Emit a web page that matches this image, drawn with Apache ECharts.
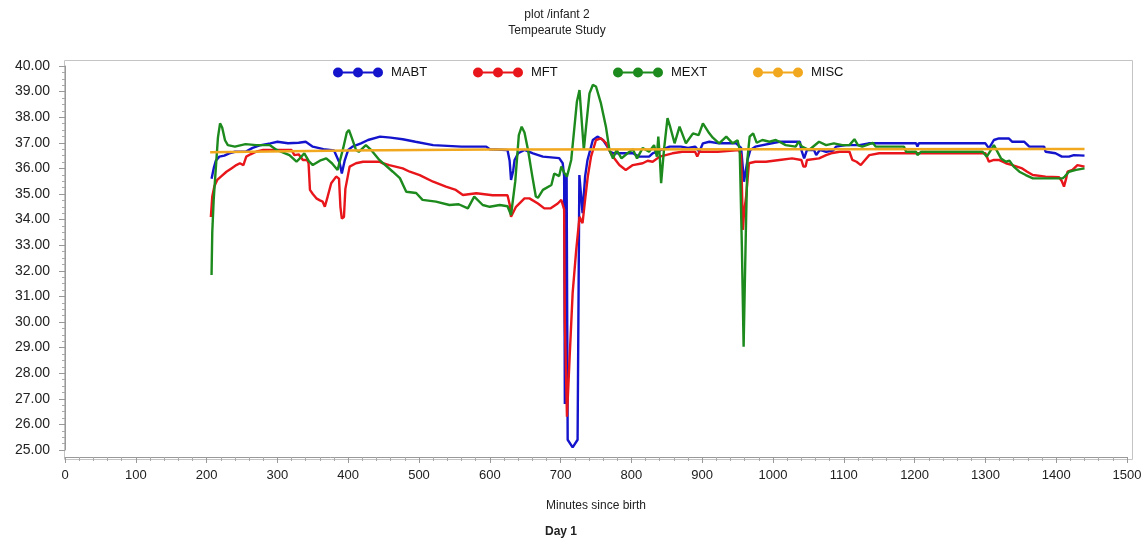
<!DOCTYPE html>
<html>
<head>
<meta charset="utf-8">
<title>Tempearute Study</title>
<script src="https://cdn.jsdelivr.net/npm/echarts@6/dist/echarts.min.js"></script>
<style>
	html, body { margin: 0; padding: 0; background: #fff; }
	#chart { width: 1148px; height: 539px; }
</style>
</head>
<body>
<div id="chart"></div>
<script>
var seriesNames = ['MABT', 'MFT', 'MEXT', 'MISC'];
var seriesColors = ['#1414cc', '#e8161a', '#1c8a1c', '#f2a81e'];

// [minutes since birth, temperature]
var mabt = [
	[207, 35.6], [210, 36.0], [213, 36.3], [218, 36.46], [225, 36.5], [232, 36.59], [240, 36.65],
	[255, 36.65], [265, 36.8], [275, 36.9], [290, 36.98], [300, 37.04], [315, 36.98], [330, 37.0],
	[340, 37.04], [350, 36.85], [365, 36.75], [380, 36.7], [388, 36.2], [391, 35.8], [395, 36.3],
	[400, 36.72], [406, 36.85], [418, 36.98], [428, 37.11], [445, 37.24], [460, 37.2], [477, 37.14],
	[495, 37.04], [520, 36.91], [560, 36.85], [595, 36.85], [600, 36.75], [625, 36.72], [628, 36.3],
	[630, 35.55], [633, 35.9], [635, 36.33], [640, 36.59], [649, 36.72], [661, 36.59], [675, 36.46],
	[698, 36.4], [703, 36.2], [705, 35.7], [706, 26.8], [707.5, 26.8], [708.5, 35.8], [710, 25.4],
	[717, 25.1], [724, 25.4], [726.5, 35.74], [729, 35.68], [731, 34.25], [734.6, 35.68], [738, 36.33],
	[745.5, 37.11], [752, 37.24], [760, 37.11], [766, 36.85], [770, 36.65], [775, 36.59], [802, 36.59],
	[811, 36.46], [825, 36.46], [830, 36.59], [842, 36.72], [854, 36.85], [870, 36.85], [880, 36.8],
	[890, 36.85], [896, 36.65], [901, 36.98], [910, 37.04], [924, 36.98], [948, 36.98], [955, 36.8],
	[959, 35.48], [964, 36.33], [968, 36.72], [975, 36.85], [1009, 37.04], [1038, 37.04], [1040, 36.72],
	[1044, 36.39], [1048, 36.72], [1058, 36.72], [1061, 36.52], [1066, 36.72], [1075, 36.65], [1085, 36.7],
	[1089, 36.85], [1103, 36.91], [1122, 36.91], [1135, 36.98], [1202, 36.98], [1204, 36.85], [1206, 36.98],
	[1300, 36.98], [1305, 36.78], [1312, 37.11], [1319, 37.17], [1333, 37.17], [1338, 37.04], [1355, 37.04],
	[1362, 36.85], [1383, 36.85], [1385, 36.65], [1399, 36.59], [1408, 36.46], [1418, 36.46], [1425, 36.52],
	[1440, 36.5]
];
var mft = [
	[206, 34.1], [208, 34.9], [211, 35.3], [215, 35.55], [221, 35.7], [228, 35.87], [235, 36.0],
	[242, 36.13], [247, 36.2], [252, 36.13], [256, 36.46], [262, 36.55], [270, 36.65], [280, 36.72],
	[320, 36.72], [324, 36.52], [330, 36.55], [336, 36.33], [342, 36.33], [344, 36.2], [346, 35.16],
	[350, 35.0], [355, 34.83], [360, 34.75], [364, 34.7], [367, 34.5], [371, 34.9], [376, 35.42],
	[383, 35.68], [387, 35.6], [389, 34.5], [391, 34.04], [394, 34.1], [396, 35.2], [402, 36.07],
	[411, 36.2], [421, 36.26], [444, 36.26], [449, 36.2], [458, 36.13], [477, 36.0], [487, 35.87],
	[501, 35.74], [520, 35.48], [538, 35.29], [552, 35.16], [562, 34.96], [581, 35.03], [604, 34.95],
	[625, 34.95], [628, 34.6], [630, 34.11], [637, 34.5], [649, 34.83], [656, 34.83], [668, 34.63],
	[677, 34.44], [686, 34.44], [696, 34.63], [701, 34.77], [705, 34.4], [706, 30.0], [709, 26.3],
	[712.6, 28.52], [717, 31.13], [722, 32.8], [726.7, 34.11], [731, 33.86], [734.6, 34.77], [738.4, 35.68],
	[743, 36.46], [750, 37.11], [757, 37.17], [764, 37.0], [771, 36.59], [776, 36.39], [783, 36.13],
	[792, 35.94], [802, 36.13], [816, 36.2], [823, 36.3], [830, 36.26], [840, 36.46], [858, 36.59],
	[872, 36.65], [890, 36.65], [893, 36.46], [896, 36.65], [922, 36.65], [952, 36.72], [955, 36.5],
	[957.6, 33.6], [959, 34.24], [962, 34.9], [966, 36.2], [975, 36.26], [990, 36.26], [1009, 36.33],
	[1027, 36.39], [1040, 36.33], [1043, 36.07], [1046, 36.07], [1048, 36.33], [1065, 36.39], [1075, 36.52],
	[1082, 36.59], [1094, 36.65], [1108, 36.65], [1112, 36.33], [1118, 36.26], [1124, 36.13], [1130, 36.33],
	[1136, 36.52], [1150, 36.59], [1300, 36.59], [1305, 36.26], [1312, 36.33], [1319, 36.33], [1329, 36.2],
	[1338, 36.13], [1352, 36.0], [1359, 35.87], [1367, 35.74], [1385, 35.68], [1404, 35.66], [1408, 35.5],
	[1411, 35.29], [1414, 35.6], [1416, 35.87], [1423, 35.94], [1430, 36.13], [1440, 36.07]
];
var mext = [
	[207, 31.84], [208, 33.5], [210, 34.77], [213, 36.0], [216, 37.2], [219, 37.76], [222, 37.6],
	[226, 37.1], [230, 36.91], [240, 36.85], [255, 36.95], [270, 36.91], [289, 36.91], [299, 36.72],
	[310, 36.6], [317, 36.52], [327, 36.26], [332, 36.4], [338, 36.59], [344, 36.3], [350, 36.13],
	[360, 36.3], [369, 36.39], [377, 36.2], [385, 35.94], [393, 36.8], [398, 37.4], [401, 37.5],
	[405, 37.2], [411, 36.72], [415, 36.65], [425, 36.91], [433, 36.7], [444, 36.33], [463, 35.87],
	[473, 35.62], [482, 35.09], [496, 35.04], [505, 34.77], [524, 34.7], [543, 34.57], [556, 34.6],
	[569, 34.44], [578, 34.9], [590, 34.57], [600, 34.5], [614, 34.57], [625, 34.52], [630, 34.18],
	[636, 35.5], [641, 37.3], [645, 37.63], [649, 37.4], [654, 36.72], [660, 35.7], [665, 34.9],
	[668, 34.85], [675, 35.16], [687, 35.35], [691, 35.8], [698, 35.7], [701, 36.07], [705.5, 35.81],
	[709, 35.68], [715, 36.33], [719.6, 37.63], [723, 38.6], [726.7, 39.06], [729, 39.0], [732.8, 36.72],
	[736, 37.63], [740.8, 38.93], [745.5, 39.26], [750, 39.2], [757, 38.54], [764, 37.63], [769, 36.72],
	[774, 36.39], [779, 36.72], [786, 36.39], [795, 36.6], [802, 36.75], [808, 36.39], [816, 36.8],
	[825, 36.65], [832, 36.91], [836, 36.46], [838, 37.24], [840, 36.5], [842, 35.42], [846, 36.72],
	[851, 37.96], [855, 37.6], [861, 36.98], [868, 37.63], [877, 36.98], [887, 37.37], [895, 37.3],
	[901, 37.76], [910, 37.37], [915, 37.2], [924, 36.98], [934, 37.24], [943, 36.98], [950, 37.1],
	[953, 36.72], [956, 33.0], [958.5, 29.03], [960, 31.2], [962, 34.0], [964, 36.4], [967, 37.24],
	[972, 37.37], [977, 37.0], [985, 37.11], [995, 37.04], [1004, 37.11], [1009, 37.04], [1018, 36.91],
	[1032, 36.85], [1036, 37.04], [1041, 36.85], [1051, 36.72], [1065, 37.04], [1075, 36.91], [1086, 36.98],
	[1098, 36.91], [1108, 36.91], [1115, 37.14], [1120, 36.91], [1126, 36.85], [1141, 37.0], [1145, 36.85],
	[1185, 36.85], [1188, 36.65], [1202, 36.65], [1204, 36.52], [1209, 36.65], [1296, 36.65], [1302, 36.46],
	[1312, 36.91], [1322, 36.39], [1329, 36.26], [1334, 36.3], [1340, 36.07], [1348, 35.87], [1357, 35.74],
	[1367, 35.61], [1409, 35.61], [1412, 35.68], [1418, 35.87], [1428, 35.94], [1440, 36.0]
];
var misc = [[205, 36.63], [400, 36.7], [600, 36.74], [1440, 36.76]];
var seriesData = [mabt, mft, mext, misc];

var legendLeft = [333, 473, 613, 753];
var fontFamily = '"Liberation Sans", Arial, sans-serif';
// line with three dots, like the SAS legend symbol
var dotLineIcon = 'path://M5,4H45V6H5Z M0,5A5,5 0 1,1 10,5A5,5 0 1,1 0,5Z M20,5A5,5 0 1,1 30,5A5,5 0 1,1 20,5Z M40,5A5,5 0 1,1 50,5A5,5 0 1,1 40,5Z';

var chart = echarts.init(document.getElementById('chart'));

var legends = [];
var series = [];
for (var i = 0; i < seriesNames.length; i++) {
	legends.push({
		data : [seriesNames[i]],
		left : legendLeft[i],
		top : 66,
		padding : 0,
		itemWidth : 50,
		itemHeight : 10,
		icon : dotLineIcon,
		selectedMode : false,
		textStyle : {
			fontFamily : fontFamily,
			fontSize : 13,
			color : '#111',
			padding : [0, 0, 0, 3]
		}
	});
	series.push({
		name : seriesNames[i],
		type : 'line',
		data : seriesData[i],
		showSymbol : false,
		symbol : 'none',
		color : seriesColors[i],
		lineStyle : { width : 2.4, color : seriesColors[i] },
		animation : false
	});
}

chart.setOption({
	animation : false,
	textStyle : { fontFamily : fontFamily },
	graphic : [
		{ type : 'text', x : 557, y : 9, style : { text : 'plot /infant 2', font : '12px ' + fontFamily, fill : '#222', align : 'center', textAlign : 'center' } },
		{ type : 'text', x : 557, y : 25, style : { text : 'Tempearute Study', font : '12px ' + fontFamily, fill : '#222', align : 'center', textAlign : 'center' } },
		{ type : 'text', x : 561, y : 526, style : { text : 'Day 1', font : 'bold 12px ' + fontFamily, fill : '#222', align : 'center', textAlign : 'center' } },
		{ type : 'rect', left : 62, top : 58, shape : { width : 1068, height : 399 }, style : { fill : 'none', stroke : '#c4c4c4', lineWidth : 1 }, z : -1 }
	],
	legend : legends,
	grid : {
		left : 65,
		right : 21,
		top : 66,
		bottom : 89
	},
	xAxis : {
		type : 'value',
		min : 0,
		max : 1500,
		interval : 100,
		offset : 7,
		name : 'Minutes since birth',
		nameLocation : 'middle',
		nameGap : 43,
		nameTextStyle : { fontSize : 12, color : '#222' },
		axisLine : { lineStyle : { color : '#999' } },
		axisTick : { length : 6, lineStyle : { color : '#999' } },
		minorTick : { show : true, splitNumber : 5, length : 4, lineStyle : { color : '#aaa' } },
		axisLabel : {
			fontSize : 13,
			color : '#222',
			margin : 12,
			formatter : function(v) { return String(v); }
		},
		splitLine : { show : false }
	},
	yAxis : {
		type : 'value',
		min : 25,
		max : 40,
		interval : 1,
		offset : 3,
		axisLine : { show : true, lineStyle : { color : '#999' } },
		axisTick : { show : true, length : 6, lineStyle : { color : '#999' } },
		minorTick : { show : true, splitNumber : 4, length : 3, lineStyle : { color : '#aaa' } },
		axisLabel : {
			fontSize : 14,
			color : '#222',
			margin : 12,
			formatter : function(v) { return v.toFixed(2); }
		},
		splitLine : { show : false }
	},
	series : series
});
</script>
</body>
</html>
